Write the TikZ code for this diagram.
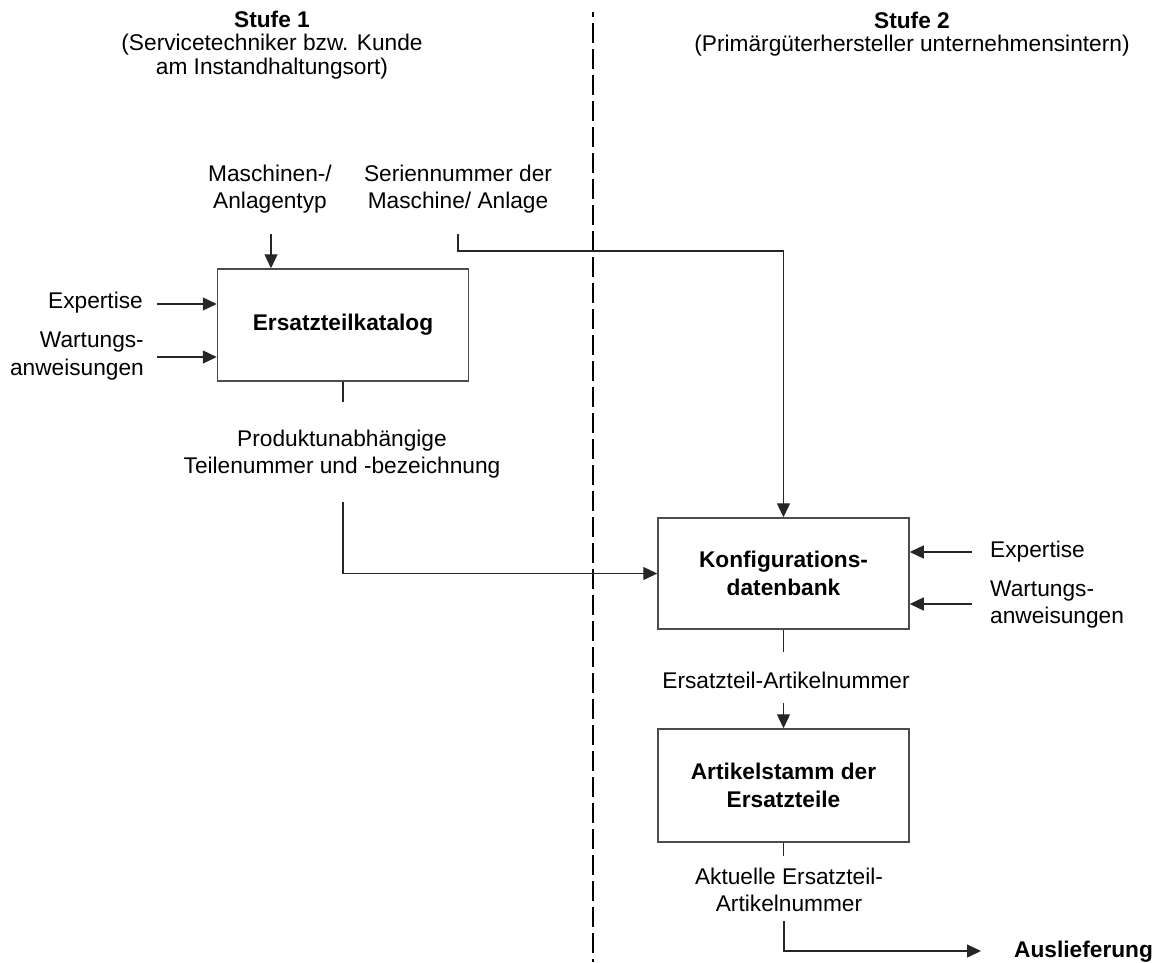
\documentclass[tikz,border=0pt]{standalone}
\usepackage{fontspec}
\setmainfont{Liberation Sans}
\usetikzlibrary{arrows.meta}
\begin{document}
\begin{tikzpicture}[x=1pt,y=-1pt,
  txt/.style={inner sep=0pt,font=\fontsize{22.7}{27.5}\selectfont,align=center},
  heading/.style={inner sep=0pt,font=\fontsize{22.7}{23.5}\selectfont,align=center},
  proc/.style={draw=black!70,line width=1.5pt,minimum width=251pt,inner sep=0pt,
    font=\fontsize{22.7}{27.5}\selectfont\bfseries,align=center},
  conn/.style={draw=black!85,line width=1.3pt},
  arr/.style={conn,-{Triangle[length=14pt,width=13pt]}},
  divider/.style={line width=2pt,dash pattern=on 20pt off 6pt,dash phase=15pt}]
\useasboundingbox (0,0) rectangle (1153,962);

% stage boundary
\coordinate (dtop) at (593,12);
\coordinate (dbot) at (593,962);
\draw[divider] (dtop) -- (dbot);

% stage headings
\node[heading] (st1) at (272,45) {\textbf{Stufe 1}\\(Servicetechniker bzw. Kunde\\am Instandhaltungsort)};
\node[heading] (st2) at (912,34) {\textbf{Stufe 2}\\(Primärgüterhersteller unternehmensintern)};

% process boxes
\node[proc,minimum height=112pt] (kat) at (343,325) {Ersatzteilkatalog};
\node[proc,minimum height=111pt] (konf) at (783.5,573.5) {Konfigurations-\\datenbank};
\node[proc,minimum height=113pt] (stamm) at (783.5,785.5) {Artikelstamm der\\Ersatzteile};

% inputs of stage 1
\node[txt] (typ) at (270,189) {Maschinen-/\\Anlagentyp};
\node[txt] (ser) at (458,189) {Seriennummer der\\Maschine/ Anlage};
\node[txt,anchor=east] (exp1) at (143,303) {Expertise};
\node[txt,anchor=east,align=right] (war1) at (144,356) {Wartungs-\\anweisungen};
\node[txt] (prod) at (342,454) {Produktunabhängige\\Teilenummer und -bezeichnung};

% inputs of stage 2
\node[txt,anchor=west] (exp2) at (990,552) {Expertise};
\node[txt,anchor=west,align=left] (war2) at (990,604.5) {Wartungs-\\anweisungen};
\node[txt] (anr) at (786,680) {Ersatzteil-Artikelnummer};
\node[txt] (akt) at (789,890) {Aktuelle Ersatzteil-\\Artikelnummer};
\node[txt,anchor=west,font=\fontsize{22.7}{27.5}\selectfont\bfseries] (aus) at (1014,952) {Auslieferung};

% connector ends
\coordinate (typS) at (271,234);
\coordinate (serS) at (458,234);
\coordinate (serK) at (458,251);
\coordinate (exp1S) at (157,304);
\coordinate (war1S) at (157,357);
\coordinate (katE) at (343,402);
\coordinate (prodS) at (343,502);
\coordinate (exp2S) at (972,552);
\coordinate (war2S) at (972,604);
\coordinate (konfE) at (783.5,652);
\coordinate (anrS) at (783.5,703);
\coordinate (stammE) at (783.5,856);
\coordinate (aktS) at (784,921);
\coordinate (ausE) at (981,951);

% connectors
\draw[arr] (typS) -- (typS |- kat.north);
\draw[arr] (serS) -- (serK) -| (konf.north);
\draw[arr] (exp1S) -- (exp1S -| kat.west);
\draw[arr] (war1S) -- (war1S -| kat.west);
\draw[conn] (kat.south) -- (katE);
\draw[arr] (prodS) |- (konf.west);
\draw[arr] (exp2S) -- (exp2S -| konf.east);
\draw[arr] (war2S) -- (war2S -| konf.east);
\draw[conn] (konf.south) -- (konfE);
\draw[arr] (anrS) -- (stamm.north);
\draw[conn] (stamm.south) -- (stammE);
\draw[arr] (aktS) |- (ausE);
\end{tikzpicture}
\end{document}
